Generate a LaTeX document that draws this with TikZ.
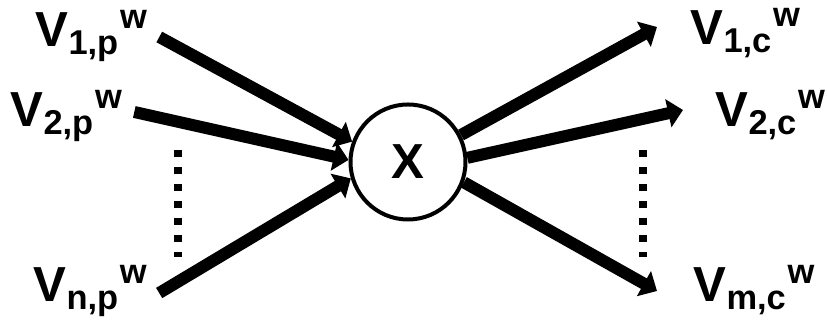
\documentclass[tikz,border=0pt]{standalone}
\usepackage{fontspec}
\setmainfont{Liberation Sans}
\usetikzlibrary{arrows.meta}
\newcommand{\vw}[1]{V\textsubscript{#1}\textsuperscript{w}}
\begin{document}
\begin{tikzpicture}[x=1cm,y=1cm,
  lbl/.style={inner sep=0.1cm,font=\fontsize{14}{16}\selectfont\bfseries},
  flow/.style={line width=0.12cm,-{Triangle[length=0.15cm,width=0.28cm]}},
  dots/.style={line width=0.08cm,dash pattern=on 0.07cm off 0.1cm}]
\useasboundingbox (0,0) rectangle (8.27,3.21);

\node[lbl,anchor=base west] (p1) at (0.25,2.74) {\vw{1,p}};
\node[lbl,anchor=base west] (p2) at (0.00,1.94) {\vw{2,p}};
\node[lbl,anchor=base west] (pn) at (0.23,0.19) {\vw{n,p}};

\node[lbl,draw,circle,line width=0.04cm,minimum size=1.15cm,inner sep=0pt] (x) at (4.08,1.59) {X};

\node[lbl,anchor=base west] (c1) at (6.80,2.76) {\vw{1,c}};
\node[lbl,anchor=base west] (c2) at (7.05,1.94) {\vw{2,c}};
\node[lbl,anchor=base west] (cm) at (6.83,0.19) {\vw{m,c}};

\draw[flow] ([yshift=0.1cm]p1.base east) -- (x.160);
\draw[flow] ([yshift=0.15cm]p2.base east) -- (x.178);
\draw[flow] ([yshift=0.09cm]pn.base east) -- (x.196);

\draw[flow] (x.27) -- ([xshift=-0.23cm,yshift=0.18cm]c1.base west);
\draw[flow] (x.4) -- ([xshift=-0.22cm,yshift=0.17cm]c2.base west);
\draw[flow] (x.-20) -- ([xshift=-0.26cm,yshift=0.11cm]cm.base west);

\draw[dots] (1.78,1.71) -- (1.78,0.64);
\draw[dots] (6.43,1.71) -- (6.43,0.64);
\end{tikzpicture}
\end{document}
